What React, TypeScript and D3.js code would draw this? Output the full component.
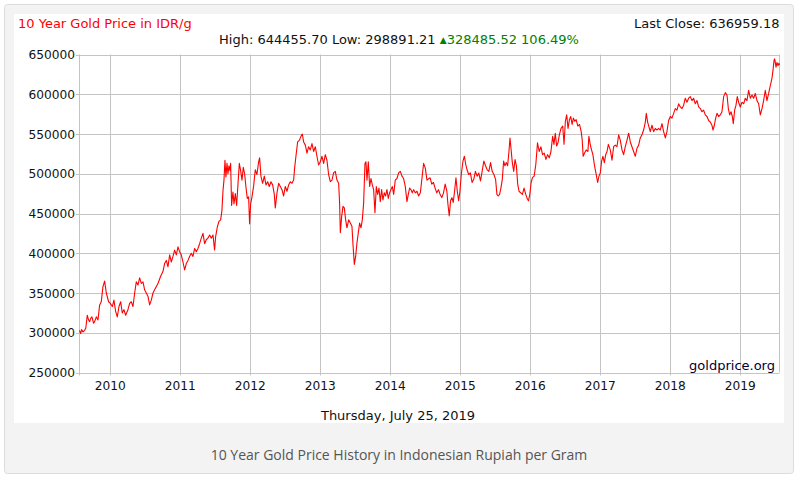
import React from "react";
import * as d3 from "d3";

// [fractional year, price IDR/g]
const series: [number, number][] = [
  [2009.560, 303000],[2009.575, 299000],[2009.590, 304000],[2009.610, 301000],[2009.633, 303000],
  [2009.650, 306000],[2009.671, 322000],[2009.690, 316000],[2009.705, 314000],[2009.720, 318000],
  [2009.738, 320000],[2009.760, 312000],[2009.776, 314000],[2009.800, 320000],[2009.824, 316000],
  [2009.848, 335000],[2009.871, 339000],[2009.895, 358000],[2009.919, 365000],[2009.943, 350000],
  [2009.976, 339000],[2010.000, 337000],[2010.029, 333000],[2010.052, 341000],[2010.076, 327000],
  [2010.100, 320000],[2010.124, 333000],[2010.148, 339000],[2010.171, 325000],[2010.195, 329000],
  [2010.219, 322000],[2010.252, 329000],[2010.276, 337000],[2010.300, 339000],[2010.324, 333000],
  [2010.348, 350000],[2010.371, 364000],[2010.395, 360000],[2010.419, 369000],[2010.443, 362000],
  [2010.467, 364000],[2010.490, 354000],[2010.514, 350000],[2010.538, 346000],[2010.562, 335000],
  [2010.586, 341000],[2010.610, 350000],[2010.633, 354000],[2010.681, 362000],[2010.719, 371000],
  [2010.752, 377000],[2010.776, 387000],[2010.800, 391000],[2010.824, 383000],[2010.848, 398000],
  [2010.871, 389000],[2010.895, 396000],[2010.919, 404000],[2010.943, 398000],[2010.967, 408000],
  [2010.990, 402000],[2011.014, 398000],[2011.038, 389000],[2011.062, 379000],[2011.086, 387000],
  [2011.110, 391000],[2011.133, 396000],[2011.157, 400000],[2011.181, 396000],[2011.205, 406000],
  [2011.229, 402000],[2011.252, 406000],[2011.276, 412000],[2011.300, 419000],[2011.324, 425000],
  [2011.348, 412000],[2011.371, 417000],[2011.395, 419000],[2011.419, 423000],[2011.443, 419000],
  [2011.467, 423000],[2011.490, 404000],[2011.505, 421000],[2011.529, 433000],[2011.552, 440000],
  [2011.576, 442000],[2011.595, 454000],[2011.610, 479000],[2011.624, 492000],[2011.638, 517000],
  [2011.652, 496000],[2011.667, 513000],[2011.681, 500000],[2011.695, 510000],[2011.710, 504000],
  [2011.719, 513000],[2011.733, 460000],[2011.752, 477000],[2011.767, 462000],[2011.786, 475000],
  [2011.805, 460000],[2011.824, 487000],[2011.843, 513000],[2011.862, 504000],[2011.881, 492000],
  [2011.900, 508000],[2011.919, 500000],[2011.938, 483000],[2011.957, 469000],[2011.976, 471000],
  [2011.990, 437000],[2012.005, 462000],[2012.024, 471000],[2012.048, 485000],
  [2012.071, 505000],[2012.095, 499000],[2012.119, 515000],[2012.133, 520000],[2012.152, 497000],
  [2012.176, 488000],[2012.200, 497000],[2012.224, 486000],[2012.248, 490000],[2012.271, 484000],
  [2012.295, 490000],[2012.319, 486000],[2012.343, 474000],[2012.357, 457000],[2012.381, 476000],
  [2012.405, 488000],[2012.429, 484000],[2012.452, 480000],[2012.476, 472000],[2012.500, 484000],
  [2012.524, 478000],[2012.548, 486000],[2012.571, 490000],[2012.595, 488000],[2012.619, 492000],
  [2012.633, 507000],[2012.652, 522000],[2012.676, 540000],[2012.700, 542000],[2012.724, 547000],
  [2012.743, 550000],[2012.762, 540000],[2012.786, 536000],[2012.810, 526000],[2012.833, 534000],
  [2012.857, 530000],[2012.881, 538000],[2012.905, 528000],[2012.929, 534000],[2012.952, 522000],
  [2012.976, 511000],[2013.000, 515000],[2013.024, 522000],[2013.048, 513000],[2013.071, 524000],
  [2013.095, 517000],[2013.119, 499000],[2013.143, 490000],[2013.167, 492000],[2013.190, 501000],
  [2013.214, 503000],[2013.238, 492000],[2013.262, 488000],[2013.276, 463000],[2013.286, 426000],
  [2013.305, 446000],[2013.324, 459000],[2013.343, 457000],[2013.362, 442000],[2013.381, 432000],
  [2013.405, 442000],[2013.429, 438000],[2013.452, 434000],[2013.467, 411000],[2013.486, 386000],
  [2013.505, 396000],[2013.524, 413000],[2013.543, 426000],[2013.562, 438000],[2013.581, 432000],
  [2013.600, 442000],[2013.619, 463000],[2013.638, 513000],[2013.652, 515000],[2013.667, 492000],
  [2013.686, 515000],[2013.705, 484000],[2013.724, 494000],[2013.743, 486000],[2013.762, 480000],
  [2013.781, 451000],[2013.800, 484000],[2013.819, 474000],[2013.838, 482000],[2013.857, 465000],
  [2013.876, 480000],[2013.895, 467000],[2013.914, 476000],[2013.933, 472000],[2013.952, 480000],
  [2013.971, 469000],[2013.990, 476000],[2014.010, 480000],[2014.029, 484000],[2014.048, 474000],
  [2014.071, 492000],[2014.095, 494000],[2014.119, 501000],[2014.143, 503000],[2014.167, 497000],
  [2014.190, 494000],[2014.214, 484000],[2014.238, 465000],[2014.257, 474000],[2014.276, 482000],
  [2014.295, 480000],[2014.314, 476000],[2014.333, 480000],[2014.357, 476000],[2014.381, 478000],
  [2014.405, 472000],[2014.429, 476000],[2014.452, 494000],[2014.476, 513000],[2014.500, 507000],
  [2014.524, 492000],
  [2014.568, 495000],[2014.592, 487000],[2014.616, 489000],[2014.640, 482000],[2014.664, 476000],
  [2014.688, 480000],[2014.712, 474000],[2014.736, 470000],[2014.760, 476000],[2014.784, 487000],
  [2014.808, 478000],[2014.823, 462000],[2014.842, 447000],[2014.861, 466000],[2014.880, 470000],
  [2014.899, 464000],[2014.918, 478000],[2014.938, 495000],[2014.957, 478000],[2014.976, 466000],
  [2014.995, 478000],[2015.014, 499000],[2015.038, 516000],[2015.058, 522000],[2015.077, 512000],
  [2015.096, 505000],[2015.120, 499000],[2015.144, 501000],[2015.168, 489000],[2015.192, 493000],
  [2015.216, 503000],[2015.240, 497000],[2015.264, 501000],[2015.288, 491000],[2015.312, 503000],
  [2015.336, 516000],[2015.360, 510000],[2015.384, 505000],[2015.408, 503000],[2015.432, 514000],
  [2015.456, 503000],[2015.480, 499000],[2015.504, 493000],[2015.523, 474000],[2015.542, 472000],
  [2015.561, 474000],[2015.580, 482000],[2015.600, 493000],[2015.619, 516000],[2015.638, 510000],
  [2015.657, 514000],[2015.676, 510000],[2015.695, 528000],[2015.710, 545000],[2015.724, 532000],
  [2015.743, 514000],[2015.763, 503000],[2015.782, 518000],[2015.801, 510000],[2015.820, 487000],
  [2015.839, 478000],[2015.863, 476000],[2015.887, 474000],[2015.911, 482000],[2015.935, 474000],
  [2015.959, 468000],[2015.974, 466000],[2015.993, 474000],[2016.012, 489000],[2016.031, 495000],
  [2016.055, 497000],[2016.079, 512000],[2016.103, 539000],[2016.127, 528000],[2016.151, 534000],
  [2016.175, 524000],[2016.199, 526000],[2016.223, 518000],[2016.247, 524000],[2016.271, 520000],
  [2016.295, 528000],[2016.319, 547000],[2016.338, 537000],[2016.357, 551000],[2016.376, 535000],
  [2016.396, 539000],[2016.415, 549000],[2016.439, 557000],[2016.463, 560000],[2016.482, 537000],
  [2016.501, 566000],[2016.520, 574000],[2016.539, 557000],[2016.559, 568000],[2016.578, 572000],
  [2016.597, 562000],[2016.616, 570000],[2016.635, 566000],[2016.655, 568000],[2016.679, 560000],
  [2016.703, 562000],[2016.727, 553000],[2016.741, 543000],[2016.755, 522000],[2016.775, 526000],
  [2016.799, 530000],[2016.823, 528000],[2016.837, 547000],[2016.856, 537000],[2016.875, 530000],
  [2016.894, 524000],[2016.918, 510000],[2016.942, 499000],[2016.962, 489000],[2016.981, 497000],
  [2017.000, 501000],[2017.019, 516000],[2017.038, 522000],[2017.058, 514000],[2017.077, 524000],
  [2017.096, 528000],[2017.115, 537000],
  [2017.143, 530000],[2017.167, 517000],[2017.190, 534000],[2017.214, 536000],[2017.238, 534000],
  [2017.262, 549000],[2017.286, 542000],[2017.310, 530000],[2017.333, 524000],[2017.357, 534000],
  [2017.381, 542000],[2017.405, 551000],[2017.429, 540000],[2017.452, 534000],[2017.476, 528000],
  [2017.500, 522000],[2017.524, 532000],[2017.548, 536000],[2017.571, 545000],[2017.595, 549000],
  [2017.619, 555000],[2017.643, 565000],[2017.657, 576000],[2017.676, 565000],[2017.695, 559000],
  [2017.714, 553000],[2017.738, 561000],[2017.762, 553000],[2017.786, 557000],[2017.810, 555000],
  [2017.833, 557000],[2017.857, 555000],[2017.881, 563000],[2017.905, 553000],[2017.929, 545000],
  [2017.952, 553000],[2017.976, 567000],[2018.000, 572000],[2018.024, 570000],[2018.048, 576000],
  [2018.071, 582000],[2018.095, 580000],[2018.119, 588000],[2018.143, 584000],[2018.167, 582000],
  [2018.190, 586000],[2018.214, 595000],[2018.238, 590000],[2018.262, 595000],[2018.286, 597000],
  [2018.310, 592000],[2018.333, 595000],[2018.357, 588000],[2018.381, 592000],[2018.405, 584000],
  [2018.429, 582000],[2018.452, 578000],[2018.476, 580000],[2018.500, 574000],[2018.524, 572000],
  [2018.548, 567000],[2018.571, 565000],[2018.595, 561000],[2018.610, 555000],[2018.629, 561000],
  [2018.648, 570000],[2018.667, 576000],[2018.690, 572000],[2018.714, 574000],[2018.738, 578000],
  [2018.762, 597000],[2018.786, 602000],[2018.810, 599000],[2018.829, 582000],[2018.848, 574000],
  [2018.867, 578000],[2018.886, 572000],[2018.900, 563000],[2018.919, 580000],[2018.938, 586000],
  [2018.957, 597000],[2018.976, 590000],[2019.000, 584000],[2019.024, 590000],[2019.048, 588000],
  [2019.071, 595000],[2019.095, 592000],[2019.119, 605000],[2019.143, 595000],[2019.167, 599000],
  [2019.190, 595000],[2019.214, 601000],[2019.238, 592000],[2019.262, 588000],[2019.286, 574000],
  [2019.310, 582000],[2019.333, 592000],[2019.357, 605000],[2019.381, 592000],[2019.405, 601000],
  [2019.429, 611000],[2019.452, 620000],[2019.467, 630000],[2019.481, 642000],[2019.488, 644456],
  [2019.495, 643000],[2019.510, 634000],[2019.524, 640000],[2019.538, 636000],[2019.552, 639000],
  [2019.560, 636959],
];

const yTicks = [250000, 300000, 350000, 400000, 450000, 500000, 550000, 600000, 650000];
const xTicks = [2010, 2011, 2012, 2013, 2014, 2015, 2016, 2017, 2018, 2019];
const xDomain: [number, number] = [2009.56, 2019.56];

const titleText = "10 Year Gold Price in IDR/g";
const lastCloseText = "Last Close: 636959.18";
const statsText = "High: 644455.70 Low: 298891.21 ";
const changeText = "328485.52 106.49%";
const dateText = "Thursday, July 25, 2019";
const captionText = "10 Year Gold Price History in Indonesian Rupiah per Gram";
const sourceText = "goldprice.org";

const FONT = "'DejaVu Sans', Verdana, sans-serif";

export default function App() {
  const W = 800, H = 479;
  const L = 79.5, R = 779.5, T = 54.5, B = 372.5;
  const x = d3.scaleLinear().domain(xDomain).range([L, R]);
  const y = d3.scaleLinear().domain([250000, 650000]).range([B, T]);
  const line = d3.line<[number, number]>().x(d => x(d[0])).y(d => y(d[1]));
  const grid = "#c4c4c4";

  return (
    <svg width={W} height={H} style={{ position: "absolute", left: 0, top: 0, background: "#fff" }}>
      <rect x={4.5} y={4.5} width={789} height={469} rx={3} fill="#f3f3f3" stroke="#dcdcdc" />
      <rect x={14} y={14} width={770} height={409} fill="#ffffff" />

      {yTicks.map(v => (
        <g key={v}>
          <line x1={76} x2={R} y1={Math.round(y(v)) + 0.5} y2={Math.round(y(v)) + 0.5} stroke={grid} />
          <text x={75} y={y(v) + 4.5} textAnchor="end" fontFamily={FONT} fontSize={12.2} fill="#111">{v}</text>
        </g>
      ))}
      {xTicks.map(t => (
        <g key={t}>
          <line x1={Math.round(x(t)) + 0.5} x2={Math.round(x(t)) + 0.5} y1={T} y2={B + 3} stroke={grid} />
          <text x={x(t)} y={390} textAnchor="middle" fontFamily={FONT} fontSize={12.2} fill="#111">{t}</text>
        </g>
      ))}
      <line x1={L} x2={L} y1={T} y2={B + 3} stroke={grid} />
      <line x1={R} x2={R} y1={T} y2={B} stroke={grid} />

      <path d={line(series) || ""} fill="none" stroke="#ff0000" strokeWidth={1.1} strokeLinejoin="round" />

      <text x={775} y={370} textAnchor="end" fontFamily={FONT} fontSize={13} fill="#000033">{sourceText}</text>

      <text x={18} y={28} fontFamily={FONT} fontSize={13} fill="#ff0000">{titleText}</text>
      <text x={779.5} y={28} textAnchor="end" fontFamily={FONT} fontSize={13} fill="#111">{lastCloseText}</text>
      <text x={399} y={44} textAnchor="middle" fontFamily={FONT} fontSize={13} fill="#111">
        {statsText}
        <tspan fill="#008000" fontSize={9} dy={-1}>▲</tspan>
        <tspan fill="#008000" dy={1}>{changeText}</tspan>
      </text>
      <text x={398} y={420} textAnchor="middle" fontFamily={FONT} fontSize={13} fill="#111">{dateText}</text>
      <text x={399} y={460} textAnchor="middle" fontFamily="'Open Sans', sans-serif" fontSize={14} fill="#555">{captionText}</text>
    </svg>
  );
}
